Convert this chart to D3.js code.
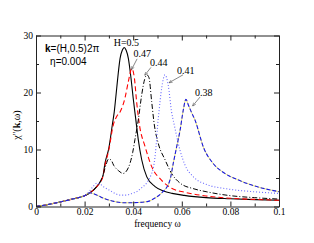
<!DOCTYPE html>
<html><head><meta charset="utf-8">
<script src="https://cdn.jsdelivr.net/npm/d3@7"></script>
<style>
html,body{margin:0;padding:0;background:#fff;}
svg{display:block;}
</style>
</head><body>
<svg id="chart" width="314" height="243"></svg>
<script>
// ---- data ----
const xTicks = [0, 0.02, 0.04, 0.06, 0.08, 0.1];
const xTickLabels = ["0", "0.02", "0.04", "0.06", "0.08", "0.1"];
const xMinorTicks = [0.01, 0.03, 0.05, 0.07, 0.09];
const yTicks = [0, 10, 20, 30];
const yTickLabels = ["0", "10", "20", "30"];
const yMinorTicks = [5, 15, 25];

const omegaH050 = [0, 0.005, 0.01, 0.015, 0.02, 0.0225, 0.025, 0.0275, 0.0284, 0.030, 0.0314, 0.0322, 0.0332, 0.0339, 0.0346, 0.0355, 0.0363, 0.0371, 0.038, 0.0391, 0.040, 0.041, 0.0421, 0.0435, 0.0456, 0.049, 0.0525, 0.056, 0.061, 0.07, 0.08, 0.09, 0.1];
const chiH050   = [0, 0.35, 0.8, 1.3, 1.9, 2.5, 3.5, 5.3, 7.6, 10.3, 14.3, 16.6, 20.7, 23.6, 26.0, 27.4, 27.9, 27.4, 26.0, 22.5, 19.0, 15.5, 11.7, 8.2, 5.2, 3.5, 2.7, 2.3, 1.95, 1.55, 1.35, 1.2, 1.1];

const omegaH047 = [0, 0.005, 0.01, 0.015, 0.02, 0.0225, 0.025, 0.0275, 0.0284, 0.030, 0.0318, 0.0332, 0.0346, 0.0366, 0.038, 0.0394, 0.0405, 0.0414, 0.0425, 0.0449, 0.0476, 0.0517, 0.0558, 0.0613, 0.07, 0.08, 0.09, 0.1];
const chiH047   = [0, 0.35, 0.8, 1.3, 1.9, 2.5, 3.5, 5.2, 7.2, 10.0, 14.3, 15.8, 16.6, 19.0, 21.9, 24.2, 22.5, 18.4, 14.5, 10.5, 7.0, 4.6, 3.2, 2.5, 1.85, 1.45, 1.25, 1.1];

const omegaH044 = [0, 0.005, 0.01, 0.015, 0.02, 0.0225, 0.025, 0.0275, 0.0288, 0.0298, 0.0308, 0.032, 0.0339, 0.0359, 0.0375, 0.0387, 0.0398, 0.0407, 0.0421, 0.0435, 0.0447, 0.0456, 0.0465, 0.0476, 0.0487, 0.0503, 0.0531, 0.0558, 0.0593, 0.065, 0.07, 0.08, 0.09, 0.1];
const chiH044   = [0, 0.35, 0.8, 1.3, 1.9, 2.5, 3.5, 5.4, 7.3, 8.3, 8.2, 7.2, 6.3, 5.8, 6.4, 7.6, 9.5, 11.7, 15.2, 19.6, 22.3, 23.1, 22.6, 18.4, 14.3, 11.1, 8.2, 5.8, 4.1, 3.1, 2.6, 1.9, 1.55, 1.3];

const omegaH041 = [0, 0.005, 0.01, 0.015, 0.02, 0.022, 0.0235, 0.025, 0.0265, 0.028, 0.0305, 0.0325, 0.0346, 0.037, 0.0395, 0.0414, 0.0435, 0.0455, 0.0473, 0.0483, 0.0494, 0.050, 0.0506, 0.0517, 0.0531, 0.0544, 0.0558, 0.0569, 0.0593, 0.0613, 0.065, 0.07, 0.0785, 0.0894, 0.1];
const chiH041   = [0, 0.35, 0.8, 1.3, 1.9, 2.7, 3.5, 4.1, 3.9, 3.4, 2.8, 2.3, 2.0, 2.0, 2.3, 2.6, 3.3, 4.1, 5.5, 6.8, 10.5, 14.0, 16.6, 20.7, 23.1, 21.3, 16.6, 14.3, 9.8, 7.3, 5.1, 3.9, 3.1, 2.6, 2.3];

const omegaH038 = [0, 0.005, 0.01, 0.015, 0.02, 0.0222, 0.025, 0.0284, 0.032, 0.0366, 0.042, 0.0462, 0.049, 0.052, 0.0551, 0.0565, 0.0579, 0.0593, 0.0606, 0.0617, 0.0627, 0.064, 0.0654, 0.069, 0.073, 0.077, 0.083, 0.09, 0.1];
const chiH038   = [0, 0.35, 0.8, 1.3, 1.9, 2.4, 2.0, 1.35, 0.9, 0.65, 0.7, 0.9, 1.5, 2.5, 4.6, 7.6, 10.5, 13.4, 16.9, 18.8, 17.8, 16.5, 15.2, 10.3, 7.5, 6.0, 4.7, 3.6, 2.6];

const seriesNames = ["H=0.5", "0.47", "0.44", "0.41", "0.38"];
// annotation positions in data units: text anchor (omega, chi), arrow start, arrow end
const labelOmega = [0.0320, 0.0401, 0.0469, 0.0580, 0.0654];
const labelChi   = [28.1, 26.2, 24.6, 23.2, 19.4];
const arrowFromOmega = [null, 0.0416, 0.0473, 0.0605, 0.0675];
const arrowFromChi   = [null, 25.9, 24.4, 23.1, 19.2];
const arrowToOmega   = [null, 0.0393, 0.0447, 0.0547, 0.0644];
const arrowToChi     = [null, 24.0, 23.0, 21.7, 17.6];

// ---- chart ----
const svg = d3.select("#chart");
const x = d3.scaleLinear().domain([0, 0.1]).range([36, 279]);
const y = d3.scaleLinear().domain([0, 30]).range([206.5, 35.5]);

const serif = "'Liberation Serif','Times New Roman',serif";
const sans = "'Liberation Sans',Arial,sans-serif";

const series = [
  {w: omegaH050, c: chiH050, color: "#000000", dash: null, width: 1.1},
  {w: omegaH047, c: chiH047, color: "#ff0000", dash: "5,3", width: 1.1},
  {w: omegaH044, c: chiH044, color: "#000000", dash: "5,2,1,2", width: 1.0},
  {w: omegaH041, c: chiH041, color: "#6a6aff", dash: "1,2", width: 1.1},
  {w: omegaH038, c: chiH038, color: "#1a1ae6", dash: "4,2", width: 1.1, under: "#e8e060"}
];

const line = d3.line().x(d => x(d[0])).y(d => y(d[1])).curve(d3.curveMonotoneX);

const gLines = svg.append("g");
series.forEach(s => {
  const pts = s.w.map((w, i) => [w, s.c[i]]);
  if (s.under) {
    gLines.append("path").attr("d", line(pts)).attr("fill", "none")
      .attr("stroke", s.under).attr("stroke-width", 0.9);
  }
  const p = gLines.append("path").attr("d", line(pts)).attr("fill", "none")
    .attr("stroke", s.color).attr("stroke-width", s.width);
  if (s.dash) p.attr("stroke-dasharray", s.dash);
});

function styleAxis(g) {
  g.selectAll("path.domain").attr("stroke", "#222").attr("stroke-width", 1);
  g.selectAll(".tick line").attr("stroke", "#222").attr("stroke-width", 1);
  g.selectAll("text").attr("font-family", serif).attr("font-size", 9.5).attr("fill", "#000");
}
const gx = svg.append("g").attr("transform", `translate(0,${y(0)})`)
  .call(d3.axisBottom(x).tickValues(xTicks).tickFormat((d, i) => xTickLabels[i]).tickSize(-5).tickSizeOuter(0).tickPadding(2));
styleAxis(gx);
const gxm = svg.append("g").attr("transform", `translate(0,${y(0)})`)
  .call(d3.axisBottom(x).tickValues(xMinorTicks).tickFormat("").tickSize(-3).tickSizeOuter(0));
styleAxis(gxm); gxm.select("path.domain").remove();

const gxt = svg.append("g").attr("transform", `translate(0,${y(30)})`)
  .call(d3.axisTop(x).tickValues(xTicks).tickFormat("").tickSize(-5).tickSizeOuter(0));
styleAxis(gxt);
const gxtm = svg.append("g").attr("transform", `translate(0,${y(30)})`)
  .call(d3.axisTop(x).tickValues(xMinorTicks).tickFormat("").tickSize(-3).tickSizeOuter(0));
styleAxis(gxtm); gxtm.select("path.domain").remove();

const gy = svg.append("g").attr("transform", `translate(${x(0)},0)`)
  .call(d3.axisLeft(y).tickValues(yTicks).tickFormat((d, i) => yTickLabels[i]).tickSize(-5).tickSizeOuter(0).tickPadding(3));
styleAxis(gy);
const gym = svg.append("g").attr("transform", `translate(${x(0)},0)`)
  .call(d3.axisLeft(y).tickValues(yMinorTicks).tickFormat("").tickSize(-3).tickSizeOuter(0));
styleAxis(gym); gym.select("path.domain").remove();

const gyr = svg.append("g").attr("transform", `translate(${x(0.1)},0)`)
  .call(d3.axisRight(y).tickValues(yTicks).tickFormat("").tickSize(-5).tickSizeOuter(0));
styleAxis(gyr);
const gyrm = svg.append("g").attr("transform", `translate(${x(0.1)},0)`)
  .call(d3.axisRight(y).tickValues(yMinorTicks).tickFormat("").tickSize(-3).tickSizeOuter(0));
styleAxis(gyrm); gyrm.select("path.domain").remove();

// axis titles
svg.append("text").attr("x", (x(0) + x(0.1)) / 2).attr("y", 226.5)
  .attr("text-anchor", "middle").attr("font-family", serif).attr("font-size", 9.5)
  .text("frequency ω");

const yl = svg.append("text").attr("transform", `translate(20,${(y(0) + y(30)) / 2 + 4}) rotate(-90)`)
  .attr("text-anchor", "middle").attr("font-family", serif).attr("font-size", 10);
yl.append("tspan").text("χ''(");
yl.append("tspan").attr("font-weight", "bold").text("k");
yl.append("tspan").text(",ω)");

// legend-like text
const t1 = svg.append("text").attr("x", x(0.0037)).attr("y", y(27.1))
  .attr("font-family", sans).attr("font-size", 10);
t1.append("tspan").attr("font-weight", "bold").text("k");
t1.append("tspan").text("=(H,0.5)2π");
svg.append("text").attr("x", x(0.0058)).attr("y", y(24.8))
  .attr("font-family", sans).attr("font-size", 10).text("η=0.004");

// annotations
const defs = svg.append("defs");
defs.append("marker").attr("id", "arr").attr("viewBox", "0 0 10 10")
  .attr("refX", 10).attr("refY", 5).attr("markerWidth", 5).attr("markerHeight", 5)
  .attr("orient", "auto")
  .append("path").attr("d", "M0,1 L10,5 L0,9").attr("fill", "none").attr("stroke", "#555").attr("stroke-width", 1.5);

seriesNames.forEach((name, i) => {
  svg.append("text").attr("x", x(labelOmega[i])).attr("y", y(labelChi[i]))
    .attr("font-family", serif).attr("font-size", 10).text(name);
  if (arrowFromOmega[i] !== null) {
    svg.append("line")
      .attr("x1", x(arrowFromOmega[i])).attr("y1", y(arrowFromChi[i]))
      .attr("x2", x(arrowToOmega[i])).attr("y2", y(arrowToChi[i]))
      .attr("stroke", "#555").attr("stroke-width", 0.7)
      .attr("marker-end", "url(#arr)");
  }
});
</script>
</body></html>
